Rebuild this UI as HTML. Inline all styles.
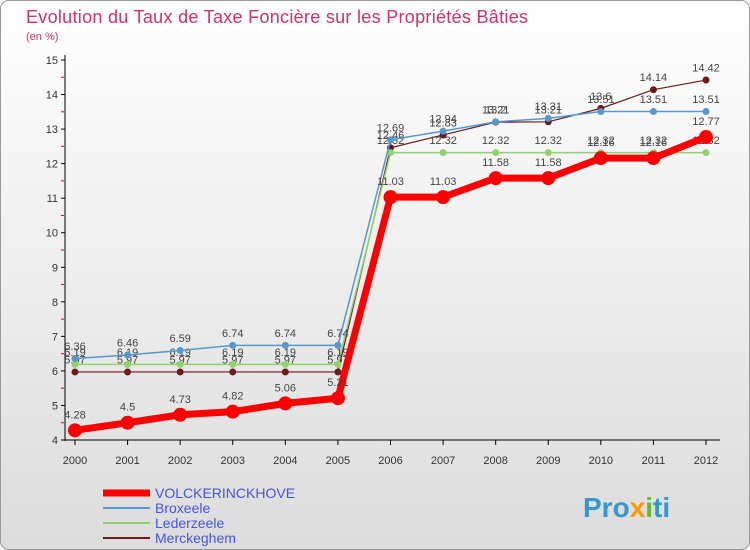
<!DOCTYPE html>
<html><head><meta charset="utf-8"><style>
body{margin:0;width:750px;height:550px;overflow:hidden;font-family:"Liberation Sans",sans-serif}
</style></head><body>
<svg id="c" width="750" height="550" style="position:absolute;left:0;top:0">
<defs><linearGradient id="bg" x1="0" y1="0" x2="0" y2="1"><stop offset="0" stop-color="#ffffff"/><stop offset="1" stop-color="#dcdcdc"/></linearGradient></defs>
<rect x="0.5" y="0.5" width="749" height="549" rx="8" fill="url(#bg)" stroke="#999"/>
<text x="26" y="23" font-size="18" textLength="502" fill="#cc3366">Evolution du Taux de Taxe Foncière sur les Propriétés Bâties</text>
<text x="26" y="40" font-size="11" fill="#cc3366">(en %)</text>
<g id="g"></g>
<text x="583" y="517" font-size="28" font-weight="bold" fill="#3399cc">Pro<tspan fill="#ff9900">x</tspan><tspan fill="#66bb33">i</tspan>ti</text>
</svg>
<script>
const years=[2000,2001,2002,2003,2004,2005,2006,2007,2008,2009,2010,2011,2012];
const volck=[4.28,4.5,4.73,4.82,5.06,5.21,11.03,11.03,11.58,11.58,12.16,12.16,12.77];
const brox=[6.36,6.46,6.59,6.74,6.74,6.74,12.69,12.94,13.21,13.31,13.51,13.51,13.51];
const leder=[6.19,6.19,6.19,6.19,6.19,6.19,12.32,12.32,12.32,12.32,12.32,12.32,12.32];
const merck=[5.97,5.97,5.97,5.97,5.97,5.97,12.46,12.83,13.2,13.21,13.6,14.14,14.42];
const yTicks=[4,5,6,7,8,9,10,11,12,13,14,15];
const names=["VOLCKERINCKHOVE","Broxeele","Lederzeele","Merckeghem"];
const NS="http://www.w3.org/2000/svg",g=document.getElementById('g');
const X=i=>75+i*(706-75)/12, Y=v=>440-(v-4)*(380/11);
function el(t,a,txt){const e=document.createElementNS(NS,t);for(const k in a)e.setAttribute(k,a[k]);if(txt!==undefined)e.textContent=txt;g.appendChild(e);return e;}
let e=el('line',{x1:65,y1:55,x2:65,y2:441,stroke:'#000'});

e=el('line',{x1:65,y1:440,x2:720,y2:440,stroke:'#000'});

yTicks.forEach(v=>{
 e=el('line',{x1:61,y1:Y(v),x2:65,y2:Y(v),stroke:'#000'});
 
 if(v<15){e=el('line',{x1:61,y1:Y(v+0.5),x2:64,y2:Y(v+0.5),stroke:'#e00'});
 }
 e=el('text',{x:58,y:Y(v)+4,'font-size':11,'text-anchor':'end',fill:'#333'},v);
 
});
years.forEach((y,i)=>{
 e=el('line',{x1:X(i),y1:440,x2:X(i),y2:445,stroke:'#000'});
 
 e=el('text',{x:X(i),y:464,'font-size':11,'text-anchor':'middle',fill:'#333'},y);
 
});
function series(d,col,w,r,name){
 e=el('polyline',{points:d.map((v,i)=>X(i)+','+Y(v)).join(' '),fill:'none',stroke:col,'stroke-width':w});
 
 d.forEach((v,i)=>{
  e=el('circle',{cx:X(i),cy:Y(v),r:r,fill:col});
  
  e=el('text',{x:X(i),y:Y(v)-(r+5),'font-size':11,'text-anchor':'middle',fill:'#444'},v);
  
 });
}
series(merck,'#6b1a1a',1.2,3.5,'merckeghem');
series(leder,'#8fd46a',1.5,3.5,'lederzeele');
series(brox,'#5599cc',1.5,3.5,'broxeele');
series(volck,'#ff0000',7,7,'volckerinckhove');
const legCols=['#ff0000','#5599cc','#8fd46a','#6b1a1a'],legW=[7,2,2,2];
names.forEach((n,i)=>{
 const y=493+i*15;
 e=el('line',{x1:103,y1:y,x2:150,y2:y,stroke:legCols[i],'stroke-width':legW[i]});
 
 e=el('text',{x:155,y:y+5,'font-size':14,fill:'#4455dd'},n);
 
});
</script>
</body></html>
